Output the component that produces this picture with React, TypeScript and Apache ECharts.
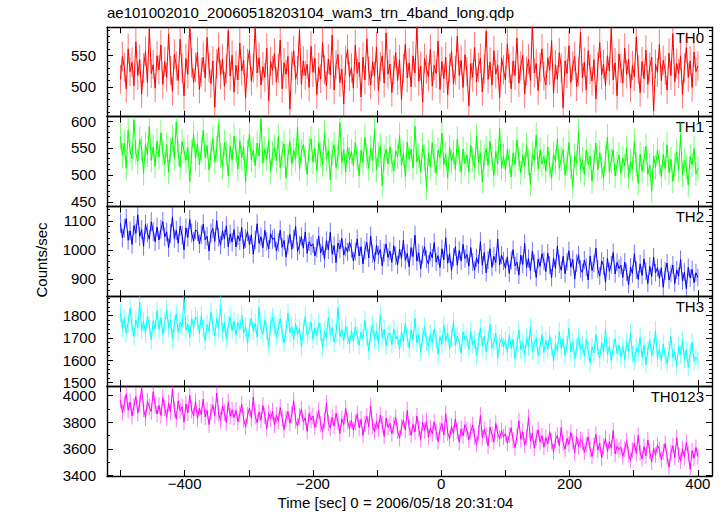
import React, { useEffect, useRef } from 'react';
import * as echarts from 'echarts';

const TITLE = 'ae101002010_20060518203104_wam3_trn_4band_long.qdp';
const X_TITLE = 'Time [sec] 0 = 2006/05/18 20:31:04';
const Y_TITLE = 'Counts/sec';
const PANEL_NAMES = ['TH0', 'TH1', 'TH2', 'TH3', 'TH0123'];
const COLORS = ['#ff0000', '#00ff00', '#0000ff', '#00ffff', '#ff00ff'];

// time bins: start -500 s, 3 s step
const TIME_START = -500;
const TIME_STEP = 3;

const TH0 = [
  512, 548, 531, 497, 560, 524, 539, 502, 571, 518, 543, 489, 530, 556, 507, 592, 521, 535, 498, 549,
  527, 566, 504, 540, 515, 583, 526, 493, 552, 533, 510, 575, 529, 486, 545, 520, 601, 538, 507, 531,
  555, 496, 523, 547, 514, 578, 530, 505, 541, 468, 536, 562, 519, 544, 501, 528, 589, 517, 550, 492,
  534, 511, 569, 525, 542, 483, 537, 558, 509, 530, 596, 522, 546, 503, 532, 515, 561, 478, 540, 526,
  553, 508, 529, 574, 497, 538, 520, 548, 465, 533, 557, 512, 526, 590, 504, 541, 518, 536, 499, 564,
  523, 545, 488, 531, 513, 570, 527, 502, 544, 519, 582, 495, 535, 551, 507, 528, 473, 542, 559, 516,
  530, 498, 566, 521, 539, 484, 547, 511, 576, 525, 503, 540, 517, 563, 494, 532, 549, 506, 585, 520,
  536, 491, 527, 554, 510, 543, 480, 529, 567, 514, 538, 500, 549, 522, 597, 509, 533, 476, 545, 528,
  516, 559, 501, 534, 521, 572, 496, 540, 513, 547, 487, 530, 556, 505, 526, 580, 518, 542, 499, 551,
  524, 470, 537, 515, 563, 508, 531, 545, 492, 528, 588, 512, 539, 503, 557, 520, 535, 483, 546, 527,
  511, 568, 529, 497, 541, 518, 577, 506, 533, 550, 489, 525, 544, 510, 599, 522, 537, 494, 531, 560,
  517, 503, 546, 526, 573, 490, 535, 512, 554, 530, 467, 541, 521, 565, 507, 533, 548, 500, 524, 586,
  514, 539, 495, 557, 528, 509, 543, 481, 532, 570, 519, 536, 502, 549, 525, 593, 511, 538, 486, 552,
  529, 506, 561, 520, 544, 498, 534, 516, 579, 527, 491, 540, 513, 558, 504, 531, 547, 462, 536, 523,
  567, 510, 542, 526, 495, 553, 518, 584, 508, 537, 521, 549, 488, 530, 562, 515, 541, 499, 555, 524,
  533,
];

const TH1 = [
  571, 536, 559, 512, 583, 544, 530, 602, 541, 525, 566, 549, 503, 557, 538, 590, 527, 552, 516, 563,
  533, 578, 541, 520, 556, 505, 547, 569, 531, 598, 539, 514, 562, 545, 527, 551, 488, 543, 575, 530,
  558, 519, 546, 583, 532, 554, 509, 541, 567, 524, 549, 595, 536, 515, 560, 540, 498, 553, 527, 572,
  545, 511, 563, 532, 551, 487, 541, 576, 528, 546, 517, 559, 535, 604, 522, 548, 530, 565, 506, 539,
  552, 526, 571, 513, 540, 558, 494, 535, 562, 520, 546, 529, 588, 511, 543, 556, 531, 501, 548, 567,
  524, 549, 508, 561, 537, 519, 578, 530, 545, 491, 540, 556, 514, 533, 597, 522, 547, 505, 552, 528,
  543, 517, 560, 531, 498, 546, 523, 570, 535, 512, 549, 527, 584, 509, 538, 554, 480, 533, 548, 520,
  552, 526, 507, 545, 534, 573, 518, 540, 497, 561, 529, 548, 513, 590, 524, 536, 505, 555, 531, 476,
  541, 515, 560, 527, 503, 546, 532, 578, 519, 538, 494, 551, 525, 542, 510, 566, 530, 505, 548, 521,
  537, 506, 555, 528, 514, 572, 523, 541, 487, 533, 549, 518, 562, 530, 499, 544, 521, 586, 512, 535,
  509, 548, 525, 496, 541, 519, 565, 530, 504, 537, 516, 555, 523, 482, 539, 528, 574, 511, 546, 520,
  534, 507, 552, 518, 493, 539, 525, 566, 512, 530, 547, 499, 521, 560, 515, 478, 536, 522, 581, 509,
  528, 501, 546, 519, 535, 488, 523, 559, 510, 541, 516, 494, 532, 570, 506, 526, 547, 498, 520, 537,
  503, 531, 517, 549, 496, 525, 511, 562, 520, 484, 538, 507, 529, 553, 501, 518, 470, 535, 514, 546,
  523, 497, 538, 512, 556, 504, 529, 488, 518, 543, 509, 575, 500, 527, 515, 481, 534, 519, 549, 502,
  512,
];

const TH2 = [
  1092, 1041, 1075, 1108, 1033, 1066, 1019, 1084, 1057, 1121, 1046, 1070, 1012, 1088, 1059, 1037, 1097, 1063, 1028, 1079,
  1034, 1071, 1098, 1045, 1062, 1008, 1056, 1114, 1039, 1067, 1023, 1082, 1051, 1000, 1076, 1043, 1105, 1058, 1030, 1069,
  1063, 1021, 1052, 1089, 1035, 1047, 996, 1058, 1074, 1029, 1101, 1044, 1016, 1066, 1038, 1083, 1011, 1055, 1027, 1070,
  1010, 1049, 1031, 1077, 1004, 1039, 1063, 1018, 1052, 985, 1034, 1090, 1022, 1045, 1007, 1068, 1029, 1003, 1056, 1036,
  1041, 997, 1025, 1068, 1009, 1033, 975, 1019, 1054, 1002, 1037, 1081, 995, 1016, 1046, 1006, 1062, 988, 1028, 1013,
  1021, 979, 1006, 1047, 990, 1013, 968, 1032, 1000, 1061, 985, 1015, 956, 1024, 1003, 1040, 982, 1009, 993, 1027,
  1005, 962, 994, 1038, 979, 1011, 951, 999, 1026, 972, 1048, 987, 960, 1016, 983, 1002, 945, 991, 1020, 974,
  996, 957, 1014, 980, 949, 1002, 971, 1033, 964, 988, 942, 1008, 977, 1051, 961, 990, 935, 984, 1011, 968,
  951, 993, 972, 1025, 958, 980, 939, 1004, 966, 1042, 954, 987, 929, 975, 1011, 947, 998, 962, 1019, 970,
  985, 944, 1008, 958, 930, 973, 952, 1029, 947, 991, 921, 965, 1004, 940, 978, 956, 1037, 949, 982, 962,
  937, 976, 919, 964, 1001, 945, 958, 913, 982, 950, 1022, 939, 970, 928, 996, 954, 905, 968, 943, 987,
  961, 925, 989, 948, 904, 972, 936, 1013, 951, 930, 978, 918, 959, 997, 940, 967, 899, 955, 983, 934,
  922, 965, 941, 896, 978, 929, 953, 1006, 934, 910, 962, 945, 888, 971, 926, 949, 991, 917, 957, 936,
  947, 905, 958, 923, 880, 941, 918, 987, 930, 898, 952, 912, 969, 926, 884, 944, 908, 975, 921, 939,
  902, 938, 871, 927, 955, 896, 919, 948, 884, 931, 909, 967, 892, 924, 866, 940, 903, 933, 887, 921,
  905,
];

const TH3 = [
  1812, 1743, 1788, 1721, 1769, 1835, 1752, 1706, 1780, 1747, 1861, 1733, 1774, 1719, 1798, 1756, 1690, 1777, 1740, 1823,
  1738, 1791, 1715, 1766, 1829, 1744, 1782, 1697, 1759, 1808, 1726, 1771, 1750, 1874, 1735, 1763, 1702, 1786, 1748, 1795,
  1779, 1720, 1801, 1743, 1686, 1761, 1730, 1816, 1755, 1709, 1788, 1741, 1847, 1725, 1768, 1694, 1757, 1794, 1733, 1776,
  1712, 1769, 1738, 1803, 1722, 1751, 1676, 1746, 1790, 1729, 1765, 1704, 1838, 1740, 1717, 1782, 1733, 1660, 1758, 1791,
  1756, 1703, 1741, 1787, 1719, 1677, 1735, 1812, 1724, 1750, 1691, 1766, 1716, 1744, 1658, 1738, 1797, 1711, 1729, 1771,
  1694, 1745, 1709, 1768, 1726, 1657, 1731, 1701, 1793, 1715, 1747, 1680, 1722, 1837, 1705, 1739, 1688, 1755, 1712, 1672,
  1733, 1685, 1750, 1712, 1667, 1726, 1698, 1779, 1705, 1641, 1720, 1758, 1690, 1731, 1676, 1803, 1701, 1739, 1663, 1715,
  1722, 1669, 1741, 1695, 1710, 1648, 1728, 1685, 1767, 1700, 1654, 1735, 1692, 1788, 1677, 1714, 1635, 1703, 1749, 1683,
  1661, 1716, 1679, 1740, 1694, 1625, 1705, 1672, 1758, 1687, 1722, 1650, 1699, 1773, 1666, 1708, 1683, 1631, 1727, 1690,
  1702, 1648, 1729, 1670, 1691, 1619, 1684, 1745, 1662, 1707, 1638, 1693, 1761, 1655, 1681, 1720, 1612, 1674, 1699, 1659,
  1688, 1637, 1711, 1652, 1693, 1604, 1670, 1736, 1646, 1681, 1624, 1701, 1659, 1750, 1640, 1676, 1697, 1618, 1663, 1714,
  1634, 1689, 1647, 1710, 1662, 1595, 1675, 1640, 1728, 1653, 1696, 1621, 1668, 1744, 1636, 1681, 1606, 1659, 1702, 1645,
  1671, 1620, 1693, 1641, 1587, 1659, 1632, 1715, 1650, 1608, 1680, 1637, 1739, 1625, 1663, 1598, 1654, 1697, 1629, 1668,
  1615, 1662, 1603, 1681, 1640, 1722, 1626, 1594, 1655, 1633, 1704, 1612, 1667, 1579, 1645, 1690, 1621, 1658, 1733, 1608,
  1651, 1597, 1672, 1619, 1584, 1643, 1706, 1610, 1636, 1573, 1664, 1625, 1689, 1602, 1647, 1566, 1631, 1680, 1594, 1614,
  1598,
];

const TH0123 = [
  3968, 3874, 3935, 4012, 3890, 3951, 3846, 3922, 3995, 3869, 3940, 4061, 3901, 3833, 3957, 3915, 3880, 4030, 3928, 3862,
  3927, 3851, 3985, 3908, 3836, 3944, 3879, 4047, 3897, 3823, 3962, 3886, 3916, 3801, 3938, 3871, 4004, 3893, 3849, 3955,
  3829, 3906, 3857, 3973, 3840, 3889, 3782, 3877, 3931, 3851, 4020, 3866, 3814, 3923, 3872, 3798, 3950, 3845, 3893, 3836,
  3889, 3803, 3861, 3935, 3822, 3768, 3851, 3907, 3830, 3990, 3845, 3797, 3876, 3815, 3926, 3848, 3752, 3869, 3825, 3882,
  3779, 3852, 3806, 3911, 3831, 3744, 3824, 3880, 3793, 3857, 3962, 3812, 3770, 3843, 3898, 3801, 3836, 3731, 3866, 3817,
  3847, 3762, 3820, 3889, 3785, 3731, 3812, 3943, 3796, 3757, 3838, 3771, 3867, 3803, 3715, 3826, 3784, 3904, 3809, 3752,
  3815, 3740, 3796, 3863, 3758, 3822, 3701, 3787, 3845, 3766, 3921, 3772, 3729, 3806, 3750, 3854, 3782, 3694, 3830, 3761,
  3791, 3712, 3775, 3836, 3734, 3680, 3763, 3818, 3741, 3889, 3757, 3703, 3784, 3726, 3847, 3749, 3671, 3797, 3738, 3809,
  3688, 3757, 3712, 3803, 3730, 3655, 3741, 3790, 3703, 3864, 3721, 3676, 3769, 3715, 3825, 3734, 3649, 3751, 3697, 3782,
  3742, 3667, 3729, 3780, 3690, 3634, 3718, 3852, 3683, 3746, 3699, 3621, 3763, 3708, 3652, 3791, 3714, 3676, 3737, 3689,
  3715, 3642, 3701, 3758, 3665, 3609, 3693, 3811, 3670, 3729, 3627, 3687, 3836, 3659, 3716, 3604, 3682, 3744, 3651, 3698,
  3612, 3684, 3637, 3729, 3655, 3578, 3668, 3701, 3623, 3759, 3641, 3596, 3679, 3632, 3722, 3657, 3570, 3690, 3616, 3668,
  3649, 3574, 3631, 3690, 3597, 3542, 3625, 3708, 3589, 3641, 3531, 3618, 3677, 3580, 3653, 3604, 3736, 3561, 3620, 3593,
  3612, 3541, 3596, 3660, 3557, 3512, 3589, 3645, 3563, 3701, 3570, 3524, 3617, 3548, 3666, 3580, 3501, 3603, 3552, 3628,
  3594, 3518, 3577, 3639, 3541, 3462, 3570, 3623, 3533, 3684, 3555, 3507, 3601, 3537, 3648, 3562, 3445, 3586, 3529, 3610,
  3541,
];

const SERIES_VALUES = [TH0, TH1, TH2, TH3, TH0123];
// Poisson error bar of a 1-s bin: sqrt(rate * 1 s) / 1 s
const ERROR_BIN_SEC = 1;

// axis settings
const X_MIN = -521;
const X_MAX = 422;
const X_TICK_STEP = 100;
const X_LABEL_STEP = 200;
const Y_MIN = [453, 441, 841, 1483, 3395];
const Y_MAX = [594, 608, 1149, 1889, 4073];
const Y_STEP = [50, 50, 100, 100, 200];
const Y_MINOR_SPLIT = [5, 5, 5, 5, 2];

// layout (px)
const PANEL_TOPS = [27.3, 116.7, 206.7, 296, 386];
const PANEL_BOTTOM = 476;
const PLOT_LEFT = 107;
const PLOT_RIGHT = 712;
const W = 723;
const H = 516;
const FONT = '"Liberation Sans", Arial, Helvetica, sans-serif';

const fmtNum = (v: number) => (v < 0 ? '\u2212' + Math.abs(v) : String(v));

export default function App() {
  const ref = useRef<HTMLDivElement>(null);
  useEffect(() => {
    if (!ref.current) return;
    const chart = echarts.init(ref.current, undefined, { renderer: 'svg' });
    const grids: any[] = [];
    const xAxes: any[] = [];
    const yAxes: any[] = [];
    const series: any[] = [];
    const graphics: any[] = [];
    for (let i = 0; i < 5; i++) {
      const top = PANEL_TOPS[i];
      const bottom = i < 4 ? PANEL_TOPS[i + 1] : PANEL_BOTTOM;
      grids.push({
        left: PLOT_LEFT,
        width: PLOT_RIGHT - PLOT_LEFT,
        top,
        height: bottom - top,
        containLabel: false,
        outerBoundsMode: 'none',
        show: false,
      });
      const lineStyle = { color: '#000', width: 1.4 };
      for (const pos of ['bottom', 'top']) {
        xAxes.push({
          type: 'value',
          gridIndex: i,
          position: pos,
          min: X_MIN,
          max: X_MAX,
          splitNumber: 9,
          minInterval: X_TICK_STEP,
          maxInterval: X_TICK_STEP,
          axisLine: { show: true, onZero: false, lineStyle },
          axisTick: { show: true, inside: true, length: 6, lineStyle: { color: '#000', width: 1 } },
          axisLabel: {
            show: i === 4 && pos === 'bottom',
            showMinLabel: false,
            showMaxLabel: false,
            margin: 1,
            color: '#000',
            fontSize: 15,
            lineHeight: 12,
            fontFamily: FONT,
            formatter: (v: number) => (v % X_LABEL_STEP === 0 ? fmtNum(v) : ''),
          },
          splitLine: { show: false },
        });
      }
      for (const pos of ['left', 'right']) {
        yAxes.push({
          type: 'value',
          gridIndex: i,
          position: pos,
          min: Y_MIN[i],
          max: Y_MAX[i],
          splitNumber: 4,
          minInterval: Y_STEP[i],
          maxInterval: Y_STEP[i],
          axisLine: { show: true, onZero: false, lineStyle },
          axisTick: { show: true, inside: true, length: 6, lineStyle: { color: '#000', width: 1 } },
          minorTick: { show: true, splitNumber: Y_MINOR_SPLIT[i], length: 3, lineStyle: { color: '#000', width: 1 } },
          axisLabel: {
            show: pos === 'left',
            showMinLabel: false,
            showMaxLabel: false,
            margin: 11,
            color: '#000',
            fontSize: 15,
            lineHeight: 10,
            fontFamily: FONT,
            formatter: (v: number) => (v % Y_STEP[i] === 0 ? String(v) : ''),
          },
          splitLine: { show: false },
          minorSplitLine: { show: false },
        });
      }
      const vals = SERIES_VALUES[i];
      const pts = vals.map((v, k) => [TIME_START + TIME_STEP * k, v]);
      const color = COLORS[i];
      series.push({
        type: 'custom',
        xAxisIndex: 2 * i,
        yAxisIndex: 2 * i,
        data: pts,
        silent: true,
        renderItem: (params: any, api: any) => {
          const t = api.value(0);
          const v = api.value(1);
          const e = Math.sqrt(v * ERROR_BIN_SEC) / ERROR_BIN_SEC;
          const cs = params.coordSys;
          const p1 = api.coord([t, v - e]);
          const p2 = api.coord([t, v + e]);
          const clampY = (y: number) => Math.max(cs.y, Math.min(cs.y + cs.height, y));
          return {
            type: 'line',
            shape: { x1: p1[0], y1: clampY(p1[1]), x2: p2[0], y2: clampY(p2[1]) },
            style: { stroke: color, lineWidth: 1, opacity: 0.55 },
          };
        },
      });
      series.push({
        type: 'line',
        xAxisIndex: 2 * i,
        yAxisIndex: 2 * i,
        data: pts,
        showSymbol: false,
        symbol: 'none',
        clip: true,
        lineStyle: { color, width: 1 },
        itemStyle: { color },
        silent: true,
      });
      graphics.push({
        type: 'text',
        right: W - 704,
        top: top + 2.5,
        style: { text: PANEL_NAMES[i], fill: '#000', fontSize: 15, fontFamily: FONT, align: 'right', verticalAlign: 'top' },
      });
    }
    graphics.push({
      type: 'text',
      left: PLOT_LEFT,
      top: 5,
      style: { text: TITLE, fill: '#000', fontSize: 15, fontFamily: FONT },
    });
    graphics.push({
      type: 'text',
      x: 395.5,
      y: 502,
      style: { text: X_TITLE, fill: '#000', fontSize: 15, fontFamily: FONT, align: 'center', verticalAlign: 'middle' },
    });
    graphics.push({
      type: 'text',
      x: 41,
      y: 260,
      rotation: Math.PI / 2,
      style: { text: Y_TITLE, fill: '#000', fontSize: 15, fontFamily: FONT, align: 'center', verticalAlign: 'middle' },
    });
    chart.setOption({
      animation: false,
      backgroundColor: '#fff',
      grid: grids,
      xAxis: xAxes,
      yAxis: yAxes,
      series,
      graphic: graphics,
    });
    return () => chart.dispose();
  }, []);
  return <div ref={ref} style={{ position: 'fixed', left: 0, top: 0, width: W, height: H }} />;
}
